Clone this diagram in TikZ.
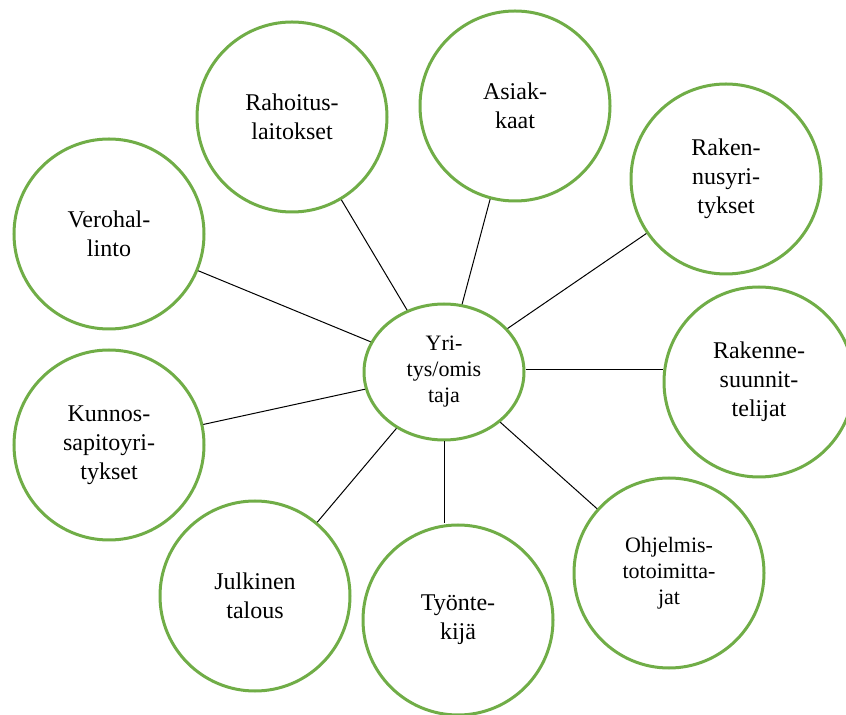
\documentclass[tikz,border=0pt]{standalone}
\usepackage{fontspec}
\setmainfont{Liberation Serif}
\usetikzlibrary{shapes.geometric}
\definecolor{leafgreen}{RGB}{112,173,71}

\begin{document}
\begin{tikzpicture}[x=0.5pt, y=-0.5pt,
    party/.style={circle, draw=leafgreen, line width=1.5pt, minimum size=95pt, inner sep=0pt, align=center, font=\fontsize{12}{14.5}\selectfont},
    hub/.style={ellipse, draw=leafgreen, line width=1.5pt, minimum width=80pt, minimum height=68pt, inner sep=0pt, align=center, font=\fontsize{11}{13}\selectfont},
    link/.style={draw=black, line width=0.5pt}]
    \useasboundingbox (0,0) rectangle (846,715);

    \node[hub] (owner) at (444,372) {Yri-\\tys/omis\\taja};
    \node[party] (finance) at (292,117) {Rahoitus-\\laitokset};
    \node[party] (clients) at (515,106) {Asiak-\\kaat};
    \node[party] (builders) at (726,179) {Raken-\\nusyri-\\tykset};
    \node[party] (designers) at (759,382) {Rakenne-\\suunnit-\\telijat};
    \node[party, font=\fontsize{11}{13}\selectfont] (software) at (669,573) {Ohjelmis-\\totoimitta-\\jat};
    \node[party] (worker) at (458,620) {Työnte-\\kijä};
    \node[party] (public) at (255,596) {Julkinen\\talous};
    \node[party] (upkeep) at (109,445) {Kunnos-\\sapitoyri-\\tykset};
    \node[party] (tax) at (109,234) {Verohal-\\linto};

    \draw[link] (owner) -- (finance);
    \draw[link] (owner) -- (clients);
    \draw[link] (owner) -- (builders);
    \draw[link] ([yshift=1pt]owner.east) -- ([yshift=1pt]owner.east -| designers.west);
    \draw[link] (owner) -- (software);
    \draw[link] (owner.south) -- (owner.south |- worker.north);
    \draw[link] (owner) -- (public);
    \draw[link] (owner) -- (upkeep);
    \draw[link] (owner) -- (tax);
\end{tikzpicture}
\end{document}
